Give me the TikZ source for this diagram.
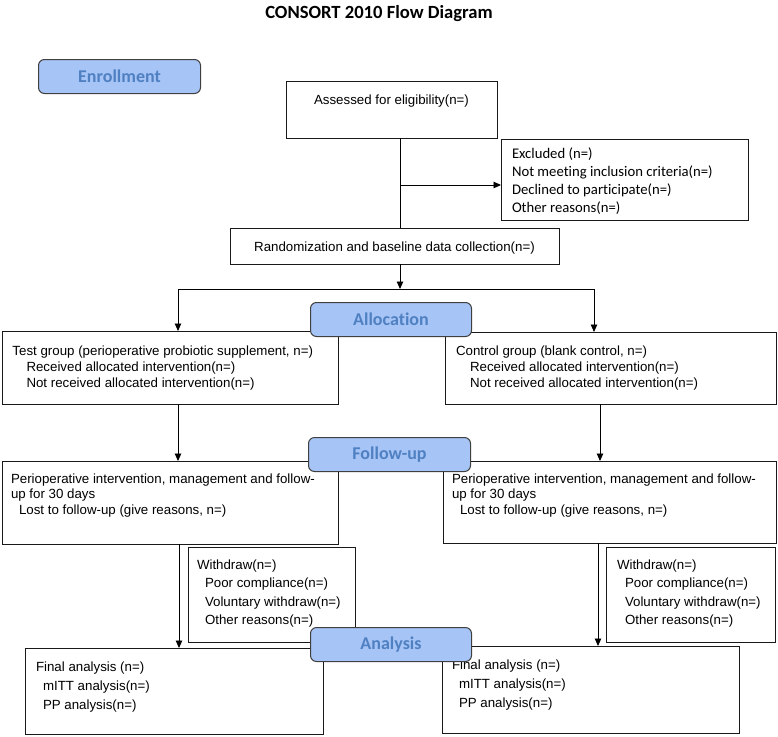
\documentclass[tikz,border=0pt]{standalone}
\usepackage{fontspec}
\setmainfont{Liberation Sans}
\newfontfamily\calibri[Ligatures=NoCommon]{Carlito}
\usetikzlibrary{arrows.meta}
\definecolor{lblfill}{HTML}{A6C4F5}
\definecolor{lbltext}{HTML}{4F80C2}
\begin{document}
\begin{tikzpicture}[x=1pt,y=-1pt,
  box/.style={draw=black!90, line width=1pt, inner sep=0pt, outer sep=0pt, anchor=north west, fill=white},
  lbl/.style={draw=black!75, fill=lblfill, rounded corners=6pt, line width=1pt,
    font=\calibri\bfseries\fontsize{18}{20}\selectfont, text=lbltext, inner sep=0pt, anchor=north west},
  txt/.style={inner sep=0pt, outer sep=0pt, anchor=base west, font=\fontsize{13.3}{16}\selectfont},
  ctxt/.style={inner sep=0pt, outer sep=0pt, anchor=base, font=\fontsize{13.3}{16}\selectfont},
  conn/.style={line width=0.9pt, draw=black},
  arr/.style={conn, -{Triangle[length=7.5pt,width=6.5pt]}}]
\useasboundingbox (0,0) rectangle (778,736);

% title
\node[anchor=base, inner sep=0pt, font=\calibri\bfseries\fontsize{18.6}{20}\selectfont] (title) at (379,18) {CONSORT 2010 Flow Diagram};

% boxes
\node[box, minimum width=211pt, minimum height=57pt] (assess) at (286,81) {};
\node[box, minimum width=247pt, minimum height=81pt] (excl) at (501,139) {};
\node[box, minimum width=329pt, minimum height=36pt] (rand) at (230,228) {};
\node[box, minimum width=336pt, minimum height=73pt] (test) at (2,331) {};
\node[box, minimum width=331pt, minimum height=72pt] (ctrl) at (445,332) {};
\node[box, minimum width=336pt, minimum height=83pt] (periopL) at (2,461) {};
\node[box, minimum width=333pt, minimum height=82pt] (periopR) at (443,461) {};
\node[box, minimum width=167pt, minimum height=95pt] (wdL) at (188,547) {};
\node[box, minimum width=169pt, minimum height=95pt] (wdR) at (606,547) {};
\node[box, minimum width=298pt, minimum height=86pt] (finalL) at (25,648) {};
\node[box, minimum width=297pt, minimum height=87pt] (finalR) at (442,646) {};

% texts
\node[ctxt] (t-assess) at (391.5,104.5) {Assessed for eligibility(n=)};
\node[txt, font=\calibri\fontsize{14.7}{18}\selectfont] (t-excl) at (512,158.5) {\parbox[t]{230pt}{%
Excluded (n=)\\
Not meeting inclusion criteria(n=)\\
Declined to participate(n=)\\
Other reasons(n=)}};
\node[ctxt] (t-rand) at (394.5,251.5) {Randomization and baseline data collection(n=)};
\node[txt] (t-test) at (12.5,355) {\parbox[t]{320pt}{%
Test group (perioperative probiotic supplement, n=)\\
\hspace*{14pt}Received allocated intervention(n=)\\
\hspace*{14pt}Not received allocated intervention(n=)}};
\node[txt] (t-ctrl) at (456,355) {\parbox[t]{320pt}{%
Control group (blank control, n=)\\
\hspace*{14pt}Received allocated intervention(n=)\\
\hspace*{14pt}Not received allocated intervention(n=)}};
\node[txt, font=\fontsize{13.3}{15.3}\selectfont] (t-periopL) at (11,483.5) {\parbox[t]{320pt}{%
Perioperative intervention, management and follow-\\
up for 30 days\\
\hspace*{8pt}Lost to follow-up (give reasons, n=)}};
\node[txt, font=\fontsize{13.3}{15.3}\selectfont] (t-periopR) at (452,483.5) {\parbox[t]{320pt}{%
Perioperative intervention, management and follow-\\
up for 30 days\\
\hspace*{8pt}Lost to follow-up (give reasons, n=)}};
\node[txt, font=\fontsize{13.3}{18.3}\selectfont] (t-wdL) at (197,569.5) {\parbox[t]{160pt}{%
Withdraw(n=)\\
\hspace*{8pt}Poor compliance(n=)\\
\hspace*{8pt}Voluntary withdraw(n=)\\
\hspace*{8pt}Other reasons(n=)}};
\node[txt, font=\fontsize{13.3}{18.3}\selectfont] (t-wdR) at (617,569.5) {\parbox[t]{160pt}{%
Withdraw(n=)\\
\hspace*{8pt}Poor compliance(n=)\\
\hspace*{8pt}Voluntary withdraw(n=)\\
\hspace*{8pt}Other reasons(n=)}};
\node[txt, font=\fontsize{13.3}{19}\selectfont] (t-finalL) at (36,671.5) {\parbox[t]{280pt}{%
Final analysis (n=)\\
\hspace*{7pt}mITT analysis(n=)\\
\hspace*{7pt}PP analysis(n=)}};
\node[txt, font=\fontsize{13.3}{19}\selectfont] (t-finalR) at (452,669.5) {\parbox[t]{280pt}{%
Final analysis (n=)\\
\hspace*{7pt}mITT analysis(n=)\\
\hspace*{7pt}PP analysis(n=)}};

% connectors
\coordinate (j1) at (400,185);
\draw[conn] (assess.south -| j1) -- (rand.north -| j1);
\draw[arr] (j1) -- (excl.west |- j1);
\coordinate (split) at (400,289);
\draw[arr] (rand.south -| split) -- (split);
\coordinate (sl) at (178,289);
\coordinate (sr) at (594,289);
\draw[conn] (sl) -- (sr);
\draw[arr] (sl) -- (test.north -| sl);
\draw[arr] (sr) -- (ctrl.north -| sr);
\coordinate (cl) at (178,430);
\coordinate (cr) at (600,430);
\draw[arr] (test.south -| cl) -- (periopL.north -| cl);
\draw[arr] (ctrl.south -| cr) -- (periopR.north -| cr);
\coordinate (dl) at (179,600);
\coordinate (dr) at (598,600);
\draw[arr] (periopL.south -| dl) -- (finalL.north -| dl);
\draw[arr] (periopR.south -| dr) -- (finalR.north -| dr);

% stage labels
\node[lbl, minimum width=162pt, minimum height=34pt] (enroll) at (38,59) {Enrollment};
\node[lbl, minimum width=161pt, minimum height=34pt] (alloc) at (310,302) {Allocation};
\node[lbl, minimum width=162pt, minimum height=34pt] (follow) at (308,437) {Follow-up};
\node[lbl, minimum width=161pt, minimum height=34pt] (analysis) at (310,627) {Analysis};
\end{tikzpicture}
\end{document}
